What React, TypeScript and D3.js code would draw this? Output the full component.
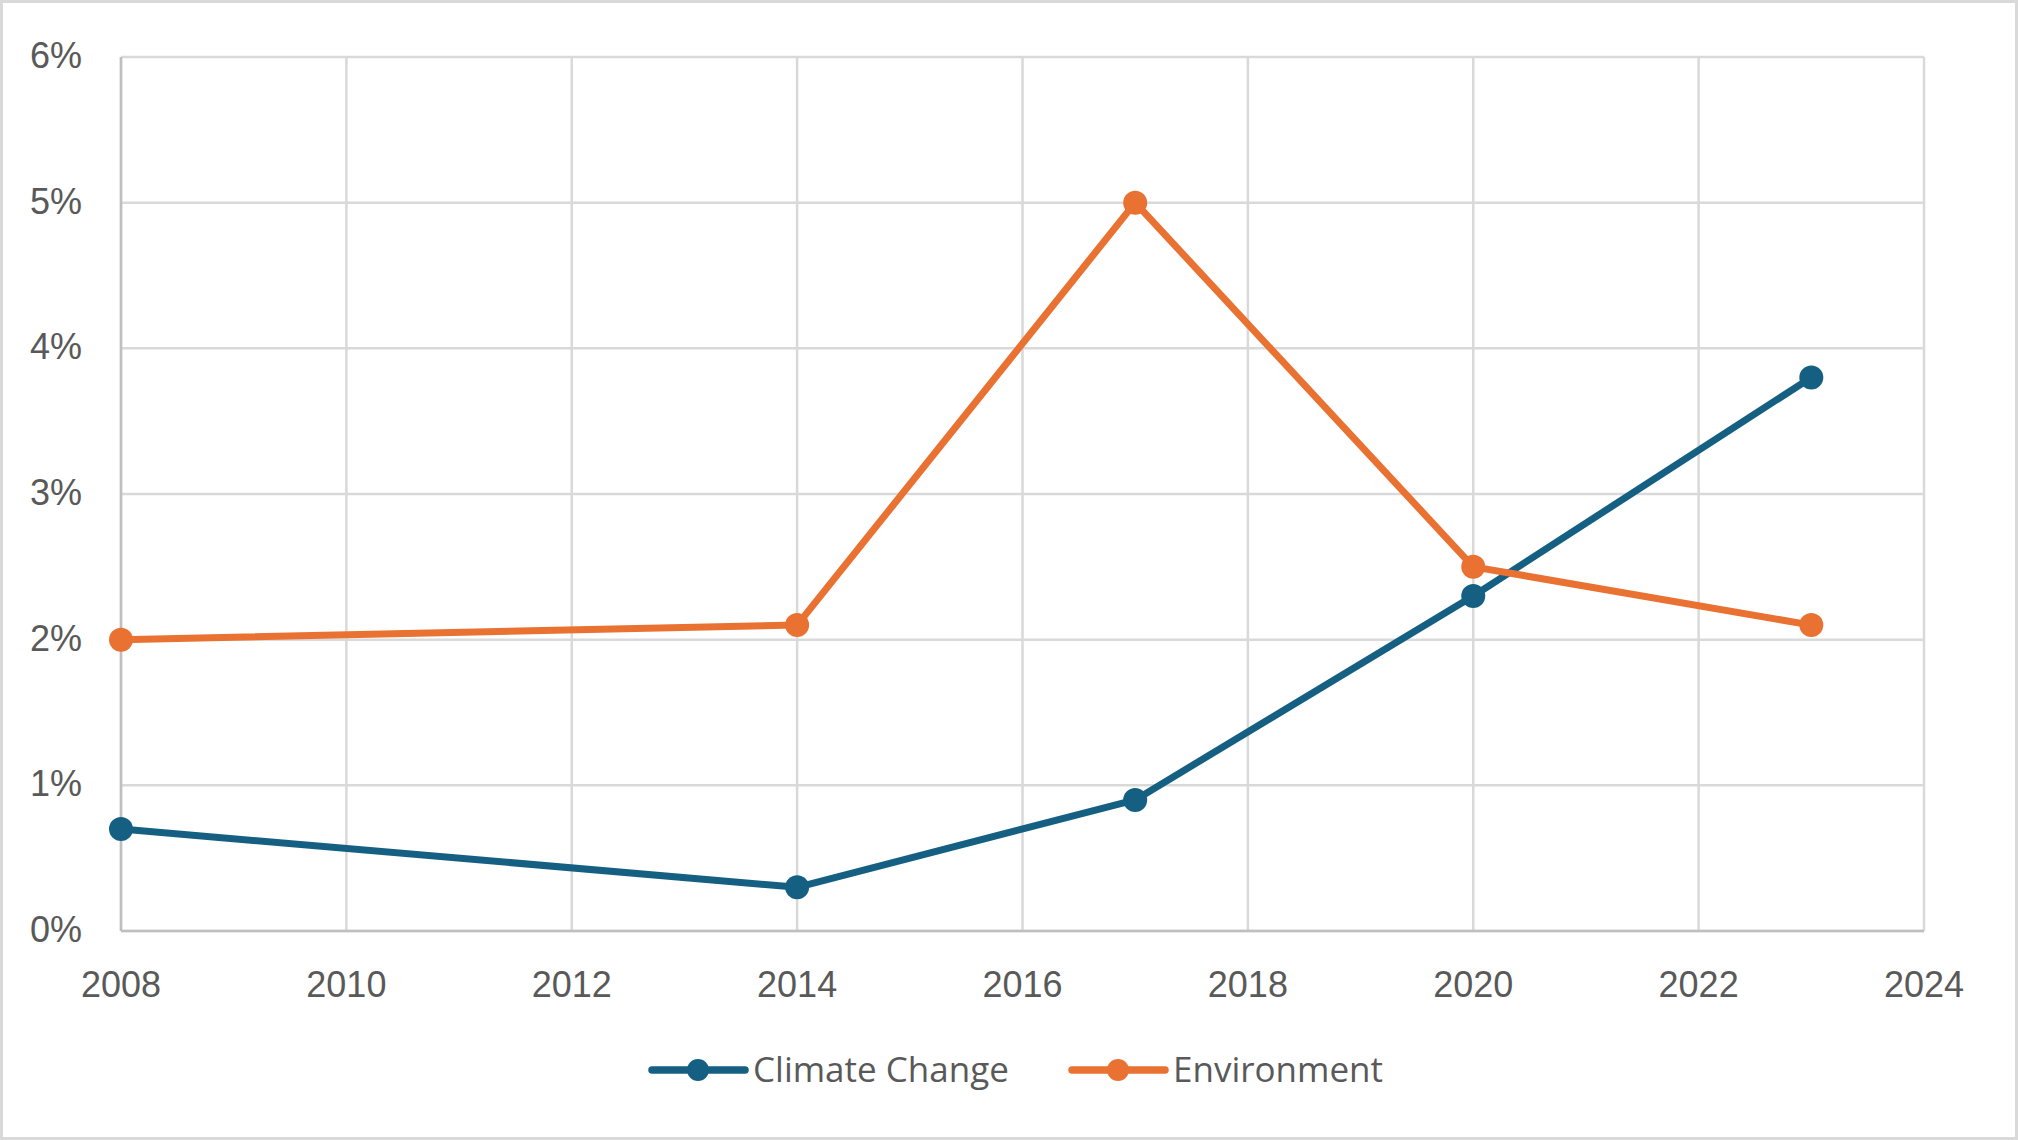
import React, { useEffect, useRef } from "react";
import * as d3 from "d3";

const years = [2008, 2014, 2017, 2020, 2023];
const climateChange = [0.007, 0.003, 0.009, 0.023, 0.038];
const environment = [0.02, 0.021, 0.05, 0.025, 0.021];
const seriesNames = ["Climate Change", "Environment"];
const seriesColors = ["#156082", "#E97132"];
const xTicks = [2008, 2010, 2012, 2014, 2016, 2018, 2020, 2022, 2024];
const yTicks = [0, 0.01, 0.02, 0.03, 0.04, 0.05, 0.06];

const App: React.FC = () => {
	const ref = useRef<SVGSVGElement>(null);

	useEffect(() => {
		const svg = d3.select(ref.current);
		svg.selectAll("*").remove();

		const width = 2018;
		const height = 1140;
		const margin = { top: 57, right: 94, bottom: 209, left: 121 };
		const textColor = "#595959";
		const font = "'Liberation Sans', Arial, sans-serif";

		svg.append("rect")
			.attr("x", 1.5).attr("y", 1.5)
			.attr("width", width - 3).attr("height", height - 3)
			.attr("fill", "white")
			.attr("stroke", "#d9d9d9")
			.attr("stroke-width", 3);

		const x = d3.scaleLinear()
			.domain([2008, 2024])
			.range([margin.left, width - margin.right]);
		const y = d3.scaleLinear()
			.domain([0, 0.06])
			.range([height - margin.bottom, margin.top]);

		// grid
		const grid = svg.append("g");
		grid.selectAll("line.v")
			.data(xTicks)
			.join("line")
			.attr("x1", (d) => x(d)).attr("x2", (d) => x(d))
			.attr("y1", y(0.06)).attr("y2", y(0))
			.attr("stroke", "#d9d9d9")
			.attr("stroke-width", 2.5);
		grid.selectAll("line.h")
			.data(yTicks)
			.join("line")
			.attr("x1", x(2008)).attr("x2", x(2024))
			.attr("y1", (d) => y(d)).attr("y2", (d) => y(d))
			.attr("stroke", "#d9d9d9")
			.attr("stroke-width", 2.5);

		// axis lines
		svg.append("line")
			.attr("x1", x(2008)).attr("x2", x(2008))
			.attr("y1", y(0.06)).attr("y2", y(0))
			.attr("stroke", "#bfbfbf").attr("stroke-width", 2.5);
		svg.append("line")
			.attr("x1", x(2008)).attr("x2", x(2024))
			.attr("y1", y(0)).attr("y2", y(0))
			.attr("stroke", "#bfbfbf").attr("stroke-width", 2.5);

		// tick labels
		svg.append("g")
			.selectAll("text")
			.data(xTicks)
			.join("text")
			.attr("x", (d) => x(d))
			.attr("y", y(0) + 66)
			.attr("text-anchor", "middle")
			.attr("fill", textColor)
			.style("font-family", font)
			.style("font-size", "36px")
			.text((d) => String(d));

		svg.append("g")
			.selectAll("text")
			.data(yTicks)
			.join("text")
			.attr("x", x(2008) - 39)
			.attr("y", (d) => y(d) + 11)
			.attr("text-anchor", "end")
			.attr("fill", textColor)
			.style("font-family", font)
			.style("font-size", "36px")
			.text((d) => d3.format(".0%")(d));

		// series
		const series = [climateChange, environment];
		const line = d3.line<number>()
			.x((_, i) => x(years[i]))
			.y((d) => y(d));

		series.forEach((values, s) => {
			svg.append("path")
				.datum(values)
				.attr("d", line)
				.attr("fill", "none")
				.attr("stroke", seriesColors[s])
				.attr("stroke-width", 7)
				.attr("stroke-linejoin", "round")
				.attr("stroke-linecap", "round");
			svg.append("g")
				.selectAll("circle")
				.data(values)
				.join("circle")
				.attr("cx", (_, i) => x(years[i]))
				.attr("cy", (d) => y(d))
				.attr("r", 12)
				.attr("fill", seriesColors[s]);
		});

		// legend
		const legendY = 1070;
		const legendX = [652, 1072];
		seriesNames.forEach((name, s) => {
			const g = svg.append("g").attr("transform", `translate(${legendX[s]},${legendY})`);
			g.append("line")
				.attr("x1", 0).attr("x2", 93)
				.attr("y1", 0).attr("y2", 0)
				.attr("stroke", seriesColors[s])
				.attr("stroke-width", 7.5)
				.attr("stroke-linecap", "round");
			g.append("circle")
				.attr("cx", 46).attr("cy", 0).attr("r", 11)
				.attr("fill", seriesColors[s]);
			g.append("text")
				.attr("x", 101)
				.attr("y", 12)
				.attr("fill", textColor)
				.style("font-family", "'Open Sans', 'Noto Sans', sans-serif")
				.style("font-size", "35px")
				.text(name);
		});
	}, []);

	return (
		<svg
			ref={ref}
			width={2018}
			height={1140}
			viewBox="0 0 2018 1140"
			style={{ position: "absolute", left: 0, top: 0 }}
		/>
	);
};

export default App;
